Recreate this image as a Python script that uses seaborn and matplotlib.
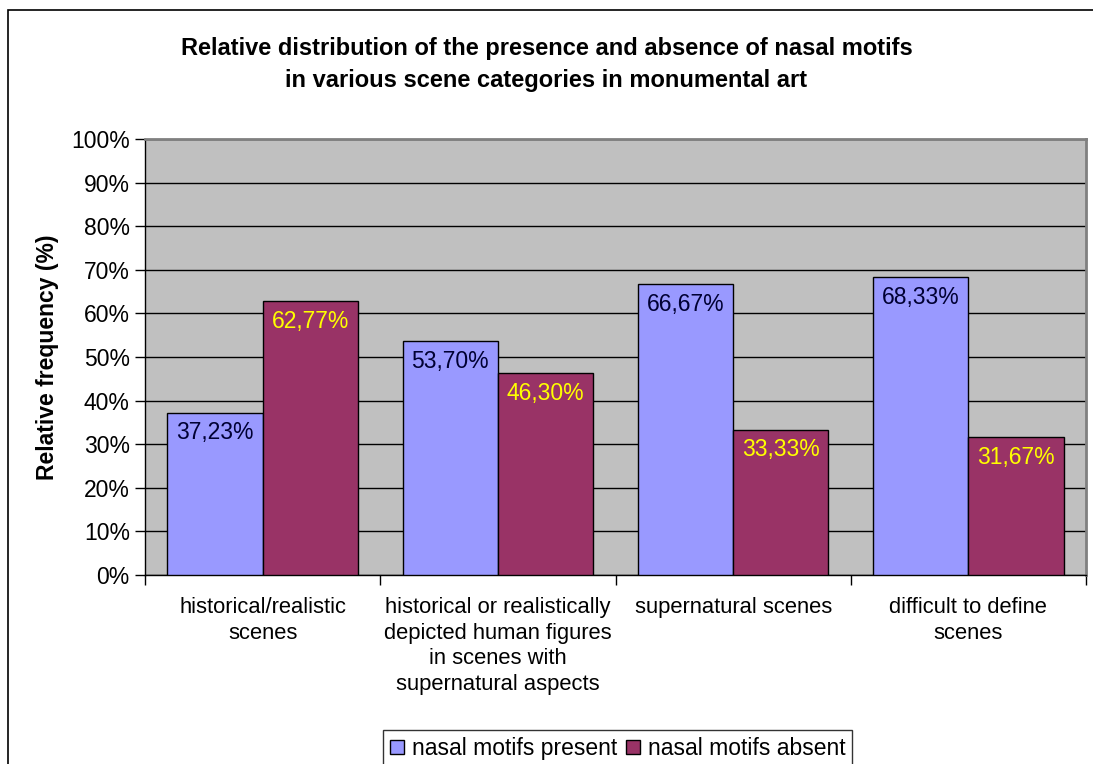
import matplotlib.pyplot as plt
import matplotlib.patches as mpatches
import numpy as np
import pandas as pd
import seaborn as sns

# ── Data ──────────────────────────────────────────────────────
CATEGORIES = [
    'historical/realistic\nscenes',
    'historical or realistically\ndepicted human figures\nin scenes with\nsupernatural aspects',
    'supernatural scenes',
    'difficult to define\nscenes',
]
PRESENT = [37.23, 53.70, 66.67, 68.33]
ABSENT  = [62.77, 46.30, 33.33, 31.67]
SERIES  = ['nasal motifs present', 'nasal motifs absent']
COLORS  = ['#9999FF', '#993366']
LABEL_COLORS = ['#000033', '#FFFF00']

df = pd.DataFrame({
    'category': CATEGORIES * 2,
    'series': [SERIES[0]] * 4 + [SERIES[1]] * 4,
    'value': PRESENT + ABSENT,
})

sns.set_theme(style='white')
plt.rcParams['font.family'] = ['Liberation Sans', 'DejaVu Sans']
plt.rcParams['text.color'] = 'black'
plt.rcParams['xtick.color'] = 'black'
plt.rcParams['ytick.color'] = 'black'
plt.rcParams['axes.labelcolor'] = 'black'

FS = 16.5

fig = plt.figure(figsize=(10.93, 7.64), dpi=100)
ax = fig.add_axes([0.1327, 0.2474, 0.8609, 0.5707])
ax.set_facecolor('#C0C0C0')

sns.barplot(data=df, x='category', y='value', hue='series',
            palette=COLORS, width=0.81, edgecolor='black', linewidth=1,
            saturation=1, ax=ax, legend=False, zorder=3)

ax.set_ylim(0, 100)
ax.set_xlim(-0.5, 3.5)
ax.set_yticks(np.arange(0, 101, 10))
ax.set_yticklabels([f'{v}%' for v in range(0, 101, 10)], fontsize=FS)
ax.yaxis.grid(True, color='black', linewidth=1, zorder=0)
ax.set_axisbelow(True)

# x ticks at group boundaries, labels centred under groups
ax.set_xticks([-0.5, 0.5, 1.5, 2.5, 3.5])
ax.set_xticklabels([])
for i, cat in enumerate(CATEGORIES):
    ax.text(i, -5.0, cat, ha='center', va='top', fontsize=15.8,
            linespacing=1.3)
ax.tick_params(axis='both', direction='out', length=7, width=1,
               color='black', left=True, bottom=True, pad=4)
ax.set_xlabel('')
ax.set_ylabel('Relative frequency (%)', fontsize=FS, fontweight='bold',
              labelpad=9)

for side in ['top', 'right']:
    ax.spines[side].set_color('#808080')
    ax.spines[side].set_linewidth(2)
for side in ['left', 'bottom']:
    ax.spines[side].set_color('black')
    ax.spines[side].set_linewidth(1)

# value labels inside bars
for container, lc in zip(ax.containers, LABEL_COLORS):
    for bar in container:
        h = bar.get_height()
        ax.text(bar.get_x() + bar.get_width() / 2, h - 2.0,
                f'{h:.2f}'.replace('.', ',') + '%',
                ha='center', va='top', fontsize=FS, color=lc, zorder=5)

fig.suptitle('Relative distribution of the presence and absence of nasal motifs\n'
             'in various scene categories in monumental art',
             fontsize=17, fontweight='bold', y=0.951, linespacing=1.5)

handles = [mpatches.Patch(facecolor=c, edgecolor='black', label=s)
           for c, s in zip(COLORS, SERIES)]
leg = fig.legend(handles=handles, loc='lower center', ncol=2,
                 bbox_to_anchor=(0.565, -0.019), fontsize=FS, frameon=True,
                 handlelength=0.6, handleheight=0.6, handletextpad=0.35,
                 columnspacing=0.4, borderpad=0.3, fancybox=False)
leg.get_frame().set_edgecolor('black')
leg.get_frame().set_linewidth(1)

# outer chart border (left and top visible)
fig.add_artist(mpatches.Rectangle((8 / 1093, -0.1), 1.2, 1.1 - 10 / 764,
                                  transform=fig.transFigure, fill=False,
                                  edgecolor='black', linewidth=1.2))

fig.savefig('out.png', dpi=100)
